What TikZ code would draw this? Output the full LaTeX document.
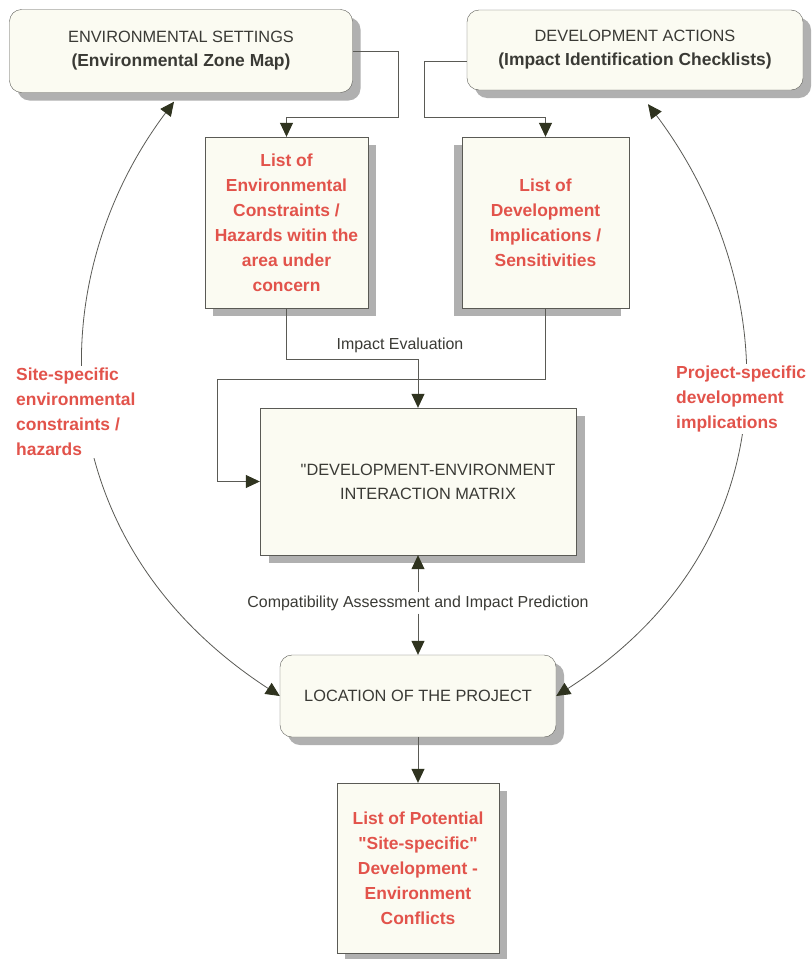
\documentclass[tikz,border=0pt]{standalone}
\usepackage{fontspec}
\setmainfont{Liberation Sans}
\usetikzlibrary{arrows.meta,shadows}
\definecolor{boxfill}{HTML}{FBFBF2}
\definecolor{redtext}{HTML}{E2534B}
\definecolor{darktext}{HTML}{3A3A35}
\definecolor{tipc}{HTML}{2F331F}
\definecolor{linec}{HTML}{5A5A55}

\begin{document}
\begin{tikzpicture}[x=1bp, y=-1bp,
  box/.style={draw=linec, fill=boxfill, text=darktext, align=center, inner sep=0pt,
    font=\fontsize{16.4}{24}\selectfont},
  roundbox/.style={box, rounded corners=12bp},
  redbox/.style={box, text=redtext, font=\fontsize{17.5}{25}\selectfont\bfseries},
  boxshadow/.style={drop shadow={shadow xshift=#1, shadow yshift=-8bp, fill=gray!62, opacity=1}},
  boxshadow/.default=8bp,
  link/.style={draw=linec, line width=0.8bp, -{Triangle[length=14bp,width=13bp,color=tipc]}},
  linkboth/.style={link, {Triangle[length=14bp,width=13bp,color=tipc]}-{Triangle[length=14bp,width=13bp,color=tipc]}},
  redlabel/.style={text=redtext, font=\fontsize{17.5}{25}\selectfont\bfseries, align=left, fill=white, inner sep=2bp},
  plainlabel/.style={text=darktext, font=\fontsize{16}{20}\selectfont, inner sep=3bp}
]
  \useasboundingbox[fill=white] (0,0) rectangle (812,959);

  % === Top row: settings and actions ===
  \node[roundbox, boxshadow, minimum width=343bp, minimum height=83bp] (envset) at (181,51)
    {ENVIRONMENTAL SETTINGS\\\fontsize{17.5}{24}\selectfont\bfseries(Environmental Zone Map)};
  \node[roundbox, boxshadow, minimum width=336bp, minimum height=80bp] (devact) at (635,50)
    {DEVELOPMENT ACTIONS\\\fontsize{17.5}{24}\selectfont\bfseries(Impact Identification Checklists)};

  % === Lists ===
  \node[redbox, boxshadow, minimum width=163bp, minimum height=171bp] (envlist) at (286.5,222.5)
    {List of\\Environmental\\Constraints /\\Hazards witin the\\area under\\concern};
  \node[redbox, boxshadow=-8bp, minimum width=167bp, minimum height=171bp] (devlist) at (545.5,222.5)
    {List of\\Development\\Implications /\\Sensitivities};

  % === Matrix ===
  \node[box, boxshadow=9bp, minimum width=316bp, minimum height=147bp] (matrix) at (418,481.5)
    {\hspace*{20bp}\textquotedbl DEVELOPMENT-ENVIRONMENT\\\hspace*{20bp}INTERACTION MATRIX};

  % === Location and conflicts ===
  \node[roundbox, boxshadow, minimum width=276bp, minimum height=82bp] (location) at (418,696)
    {LOCATION OF THE PROJECT};
  \node[redbox, boxshadow, minimum width=162bp, minimum height=170bp] (conflicts) at (418,868)
    {List of Potential\\\textquotedbl Site-specific\textquotedbl\\Development -\\Environment\\Conflicts};

  % bends
  \coordinate (envbend) at (398,117);
  \coordinate (devbend) at (424,117);
  \coordinate (evalbend) at (418,359);
  \coordinate (sidebend) at (217,379);

  % Connectors
  \draw[link] (envset.east) -| (envbend) -| (envlist.north);
  \draw[link] ([yshift=-11bp]devact.west) -| (devbend) -| (devlist.north);
  \draw[link] (envlist.south) |- (evalbend) -- (matrix.north);
  \draw[link] (devlist.south) |- (sidebend) |- (matrix.west);
  \node[plainlabel] (impeval) at (400,345) {Impact Evaluation};

  \node[plainlabel, fill=white] (compat) at (418,603) {Compatibility Assessment and Impact Prediction};
  \draw[link] (compat) -- (matrix.south);
  \draw[link] (compat) -- (location.north);
  \draw[link] (location.south) -- (conflicts.north);

  % Side curves
  \draw[linkboth] ([xshift=-7bp,yshift=-9bp]envset.south) .. controls (40,280) and (40,540) .. (location.west);
  \draw[linkboth] ([xshift=13bp,yshift=-14bp]devact.south) .. controls (780,280) and (800,540) .. (location.east);
  \node[redlabel, anchor=north west] (sitelbl) at (14,366)
    {Site-specific\\environmental\\constraints /\\hazards};
  \node[redlabel, anchor=north west] (projlbl) at (674,364)
    {Project-specific\\development\\implications};
\end{tikzpicture}
\end{document}
